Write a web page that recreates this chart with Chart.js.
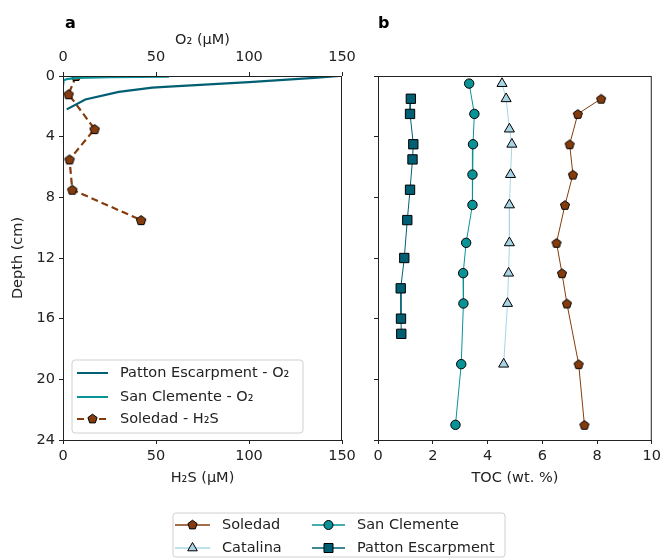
<!DOCTYPE html>
<html>
<head>
<meta charset="utf-8">
<script src="https://cdn.jsdelivr.net/npm/chart.js@4"></script>
<style>
  body { margin: 0; background: #fff; }
  #wrap { position: relative; width: 665px; height: 558px; }
  #wrap canvas { position: absolute; left: 0; top: 0; }
</style>
</head>
<body>
<div id="wrap">
  <canvas id="chartA" width="665" height="558"></canvas>
  <canvas id="chartB" width="665" height="558"></canvas>
</div>
<script>
// panel a - porewater profiles (depth in cm)
var pattonO2Depth = [0, 0.12, 0.4, 0.7, 0.77, 1.05, 1.55, 2.2];
var pattonO2 = [148.5, 135, 100, 57, 48, 30, 12, 2];
var sanClementeO2Depth = [0.05, 0.08, 0.12, 0.2, 0.3, 0.65];
var sanClementeO2 = [57, 25, 8, 2, 0.3, 0];
var soledadH2SDepth = [0, 1.2, 3.5, 5.5, 7.5, 9.5];
var soledadH2S = [7, 3, 17, 3.5, 5, 42];

// panel b - TOC
var soledadDepth = [1.5, 2.5, 4.5, 6.5, 8.5, 11, 13, 15, 19, 23];
var soledadTOC = [8.15, 7.3, 7.0, 7.12, 6.83, 6.52, 6.72, 6.9, 7.33, 7.54];
var sanClementeDepth = [0.5, 2.5, 4.5, 6.5, 8.5, 11, 13, 15, 19, 23];
var sanClementeTOC = [3.33, 3.52, 3.47, 3.45, 3.45, 3.22, 3.11, 3.12, 3.04, 2.83];
var catalinaDepth = [0.5, 1.5, 3.5, 4.5, 6.5, 8.5, 11, 13, 15, 19];
var catalinaTOC = [4.53, 4.68, 4.8, 4.89, 4.84, 4.8, 4.8, 4.77, 4.73, 4.59];
var pattonDepth = [1.5, 2.5, 4.5, 5.5, 7.5, 9.5, 12, 14, 16, 17];
var pattonTOC = [1.2, 1.17, 1.29, 1.26, 1.17, 1.07, 0.96, 0.83, 0.84, 0.85];

var depthTicks = [0, 4, 8, 12, 16, 20, 24];

var cSoledad = '#843c0c';
var cSanClemente = '#0a9396';
var cCatalina = '#a8d4e6';
var cPatton = '#005f73';
var axisColor = '#222';
var fontPx = 14.5;

Chart.defaults.font.family = 'DejaVu Sans';
Chart.defaults.font.size = fontPx;
Chart.defaults.color = axisColor;

function pts(xs, ys) {
  return xs.map(function (v, i) { return {x: v, y: ys[i]}; });
}

function pentagonPath(g, cx, cy, r) {
  g.beginPath();
  for (var i = 0; i < 5; i++) {
    var a = -Math.PI / 2 + i * 2 * Math.PI / 5;
    var px = cx + r * Math.cos(a), py = cy + r * Math.sin(a);
    if (i) g.lineTo(px, py); else g.moveTo(px, py);
  }
  g.closePath();
}

function pentagon(r, fill) {
  var c = document.createElement('canvas');
  var s = Math.ceil(r * 2 + 4);
  c.width = s; c.height = s;
  var g = c.getContext('2d');
  pentagonPath(g, s / 2, s / 2 + 0.5, r);
  g.fillStyle = fill; g.fill();
  g.lineWidth = 1; g.strokeStyle = '#000'; g.stroke();
  return c;
}

var pentA = pentagon(5, cSoledad);
var pentB = pentagon(4.8, cSoledad);

// little marker drawer for the hand-made legends
function marker(g, style, x, y, fill) {
  g.save();
  g.fillStyle = fill; g.strokeStyle = '#000'; g.lineWidth = 1;
  g.beginPath();
  if (style === 'pent') {
    pentagonPath(g, x, y, 4.8);
  } else if (style === 'circle') {
    g.arc(x, y, 4.5, 0, Math.PI * 2);
  } else if (style === 'tri') {
    g.moveTo(x, y - 5.5); g.lineTo(x + 4.8, y + 2.8); g.lineTo(x - 4.8, y + 2.8); g.closePath();
  } else if (style === 'rect') {
    g.rect(x - 4.5, y - 4.5, 9, 9);
  }
  g.fill(); g.stroke();
  g.restore();
}

function legendBox(g, x, y, w, h) {
  var r = 3;
  g.save();
  g.beginPath();
  g.moveTo(x + r, y); g.lineTo(x + w - r, y); g.quadraticCurveTo(x + w, y, x + w, y + r);
  g.lineTo(x + w, y + h - r); g.quadraticCurveTo(x + w, y + h, x + w - r, y + h);
  g.lineTo(x + r, y + h); g.quadraticCurveTo(x, y + h, x, y + h - r);
  g.lineTo(x, y + r); g.quadraticCurveTo(x, y, x + r, y);
  g.closePath();
  g.fillStyle = 'rgba(255,255,255,0.85)'; g.fill();
  g.strokeStyle = '#d0d0d0'; g.lineWidth = 1; g.stroke();
  g.restore();
}

function legendItem(g, x1, x2, y, color, width, dash, style, label, tx) {
  g.save();
  g.strokeStyle = color; g.lineWidth = width; g.setLineDash(dash);
  g.beginPath(); g.moveTo(x1, y); g.lineTo(x2, y); g.stroke();
  g.restore();
  if (style) marker(g, style, (x1 + x2) / 2, y, style === 'tri' ? cCatalina : color);
  g.save();
  g.fillStyle = axisColor; g.font = fontPx + 'px "DejaVu Sans"'; g.textBaseline = 'middle';
  g.fillText(label, tx, y);
  g.restore();
}

// frame + panel letter + legends
var decorPlugin = {
  id: 'decor',
  afterDraw: function (chart, args, opts) {
    var g = chart.ctx, a = chart.chartArea;
    g.save();
    g.strokeStyle = axisColor; g.lineWidth = 1;
    g.strokeRect(a.left + 0.5, a.top + 0.5, a.right - a.left - 1, a.bottom - a.top);
    g.fillStyle = '#000'; g.font = 'bold 16px "DejaVu Sans"'; g.textBaseline = 'middle';
    g.fillText(opts.letter, opts.lx, opts.ly);
    g.restore();
    if (opts.letter === 'a') {
      legendBox(g, 72, 360, 231, 73);
      legendItem(g, 77, 108, 373, cPatton, 2, [], null, 'Patton Escarpment - O\u2082', 120);
      legendItem(g, 77, 108, 397, cSanClemente, 2, [], null, 'San Clemente - O\u2082', 120);
      legendItem(g, 77, 108, 419, cSoledad, 2, [7, 4], 'pent', 'Soledad - H\u2082S', 120);
    } else {
      legendBox(g, 173, 513, 332, 44);
      legendItem(g, 175, 210, 525, cSoledad, 1.5, [], 'pent', 'Soledad', 222);
      legendItem(g, 175, 210, 548, cCatalina, 1.5, [], 'tri', 'Catalina', 222);
      legendItem(g, 312, 345, 525, cSanClemente, 1.5, [], 'circle', 'San Clemente', 357);
      legendItem(g, 312, 345, 548, cPatton, 1.5, [], 'rect', 'Patton Escarpment', 357);
    }
  }
};

function fixW(w) { return function (s) { s.width = w; }; }
function fixH(h) { return function (s) { s.height = h; }; }

var tickGrid = { drawOnChartArea: false, drawTicks: true, tickLength: 4, color: axisColor };

var depthAxis = function (showLabels, w) {
  return {
    type: 'linear', reverse: true, min: 0, max: 24,
    afterBuildTicks: function (s) { s.ticks = depthTicks.map(function (v) { return {value: v}; }); },
    ticks: { display: showLabels, padding: 4 },
    grid: tickGrid, border: { display: false },
    title: { display: showLabels, text: 'Depth (cm)', padding: { top: 10, bottom: 0 } },
    afterFit: fixW(w)
  };
};

new Chart(document.getElementById('chartA'), {
  type: 'scatter',
  data: {
    datasets: [
      { label: 'Patton Escarpment - O\u2082', data: pts(pattonO2, pattonO2Depth), xAxisID: 'xTop',
        showLine: true, borderColor: cPatton, borderWidth: 2.2, pointRadius: 0 },
      { label: 'San Clemente - O\u2082', data: pts(sanClementeO2, sanClementeO2Depth), xAxisID: 'xTop',
        showLine: true, borderColor: cSanClemente, borderWidth: 2.2, pointRadius: 0 },
      { label: 'Soledad - H\u2082S', data: pts(soledadH2S, soledadH2SDepth), xAxisID: 'x',
        showLine: true, borderColor: cSoledad, borderWidth: 2.2, borderDash: [7, 4],
        pointStyle: pentA, pointRadius: 5, backgroundColor: cSoledad }
    ]
  },
  options: {
    responsive: false, animation: false,
    layout: { padding: { left: 0, top: 20, right: 323, bottom: 67 } },
    plugins: { legend: { display: false }, tooltip: { enabled: false },
      decor: { letter: 'a', lx: 65, ly: 24 } },
    scales: {
      x: { type: 'linear', position: 'bottom', min: 0, max: 150,
        ticks: { stepSize: 50, padding: 4 }, grid: tickGrid, border: { display: false },
        title: { display: true, text: 'H\u2082S (\u03bcM)', padding: { top: 0, bottom: 4 } },
        afterFit: fixH(51) },
      xTop: { type: 'linear', position: 'top', min: 0, max: 150,
        ticks: { stepSize: 50, padding: 6 }, grid: tickGrid, border: { display: false },
        title: { display: true, text: 'O\u2082 (\u03bcM)', padding: { top: 12, bottom: 0 } },
        afterFit: fixH(56) },
      y: depthAxis(true, 63)
    }
  },
  plugins: [decorPlugin]
});

new Chart(document.getElementById('chartB'), {
  type: 'scatter',
  data: {
    datasets: [
      { label: 'Soledad', data: pts(soledadTOC, soledadDepth), showLine: true,
        borderColor: cSoledad, borderWidth: 1, pointStyle: pentB, pointRadius: 5 },
      { label: 'San Clemente', data: pts(sanClementeTOC, sanClementeDepth), showLine: true,
        borderColor: cSanClemente, borderWidth: 1, pointStyle: 'circle', pointRadius: 4.7,
        pointBackgroundColor: cSanClemente, pointBorderColor: '#000', pointBorderWidth: 1 },
      { label: 'Catalina', data: pts(catalinaTOC, catalinaDepth), showLine: true,
        borderColor: cCatalina, borderWidth: 1, pointStyle: 'triangle', pointRadius: 5.8,
        pointBackgroundColor: cCatalina, pointBorderColor: '#000', pointBorderWidth: 1 },
      { label: 'Patton Escarpment', data: pts(pattonTOC, pattonDepth), showLine: true,
        borderColor: cPatton, borderWidth: 1, pointStyle: 'rect', pointRadius: 6.6,
        pointBackgroundColor: cPatton, pointBorderColor: '#000', pointBorderWidth: 1 }
    ]
  },
  options: {
    responsive: false, animation: false,
    layout: { padding: { left: 360, top: 76, right: 9, bottom: 67 } },
    plugins: { legend: { display: false }, tooltip: { enabled: false },
      decor: { letter: 'b', lx: 378, ly: 24 } },
    scales: {
      x: { type: 'linear', position: 'bottom', min: 0, max: 10,
        ticks: { stepSize: 2, padding: 4 }, grid: tickGrid, border: { display: false },
        title: { display: true, text: 'TOC (wt. %)', padding: { top: 0, bottom: 4 } },
        afterFit: fixH(51) },
      y: depthAxis(false, 18)
    }
  },
  plugins: [decorPlugin]
});
</script>
</body>
</html>
